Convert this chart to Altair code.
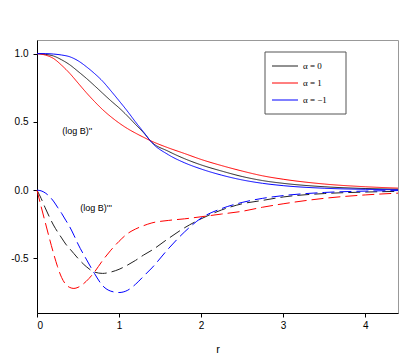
import altair as alt
import pandas as pd

# ---- data ----
R_SOLID = [0, 0.1, 0.2, 0.3, 0.4, 0.5, 0.6, 0.7, 0.8, 0.9, 1.0, 1.1, 1.2, 1.3, 1.4,
           1.6, 1.8, 2.0, 2.25, 2.5, 2.75, 3.0, 3.5, 4.0, 4.4]
BLACK_2 = [1.0, 0.995, 0.983, 0.955, 0.918, 0.87, 0.82, 0.766, 0.71, 0.655, 0.603,
           0.545, 0.482, 0.42, 0.351, 0.285, 0.23, 0.185, 0.14, 0.1, 0.07, 0.05, 0.025,
           0.012, 0.007]
RED_2 = [1.0, 0.99, 0.965, 0.915, 0.855, 0.785, 0.715, 0.65, 0.59, 0.538, 0.492, 0.452,
         0.418, 0.387, 0.358, 0.31, 0.268, 0.225, 0.18, 0.14, 0.105, 0.08, 0.045, 0.025,
         0.015]
BLUE_2 = [1.0, 1.0, 0.997, 0.99, 0.977, 0.948, 0.905, 0.855, 0.798, 0.728, 0.655, 0.58,
          0.5, 0.425, 0.348, 0.26, 0.2, 0.155, 0.11, 0.075, 0.05, 0.033, 0.014, 0.006,
          0.003]

R_DASH = [0, 0.05, 0.1, 0.15, 0.2, 0.25, 0.3, 0.35, 0.4, 0.45, 0.5, 0.6, 0.7, 0.8, 0.9,
          1.0, 1.1, 1.2, 1.3, 1.4, 1.6, 1.8, 2.0, 2.25, 2.5, 2.75, 3.0, 3.5, 4.0, 4.4]
BLACK_3 = [0, -0.06, -0.13, -0.195, -0.255, -0.305, -0.35, -0.395, -0.43, -0.465, -0.5,
           -0.56, -0.6, -0.61, -0.6, -0.58, -0.55, -0.515, -0.475, -0.44, -0.355, -0.275,
           -0.21, -0.145, -0.1, -0.075, -0.05, -0.025, -0.014, -0.009]
RED_3 = [0, -0.12, -0.235, -0.35, -0.46, -0.56, -0.64, -0.69, -0.713, -0.72, -0.712,
         -0.668, -0.6, -0.515, -0.44, -0.375, -0.32, -0.285, -0.26, -0.24, -0.222, -0.21,
         -0.195, -0.175, -0.155, -0.125, -0.1, -0.06, -0.035, -0.022]
BLUE_3 = [0, -0.005, -0.02, -0.045, -0.08, -0.125, -0.17, -0.22, -0.27, -0.33, -0.395,
          -0.505, -0.61, -0.7, -0.74, -0.75, -0.735, -0.69, -0.63, -0.57, -0.43, -0.305,
          -0.205, -0.135, -0.09, -0.06, -0.04, -0.017, -0.007, -0.003]

SERIES = ["α = 0", "α = 1", "α = −1"]
COLORS = ["#222222", "#ff0000", "#0000ff"]

X_TICKS = [0, 1, 2, 3, 4]
Y_TICKS = [-0.5, 0.0, 0.5, 1.0]

ANNOT_TEXT = ["(log B)''", "(log B)'''"]
ANNOT_R = [0.49, 0.72]
ANNOT_V = [0.434, -0.13]

# ---- build table ----
rows = []
for name, vals in zip(SERIES, [BLACK_2, RED_2, BLUE_2]):
    for r, v in zip(R_SOLID, vals):
        rows.append({"r": r, "v": v, "alpha": name, "deriv": "second"})
for name, vals in zip(SERIES, [BLACK_3, RED_3, BLUE_3]):
    for r, v in zip(R_DASH, vals):
        rows.append({"r": r, "v": v, "alpha": name, "deriv": "third"})
df = pd.DataFrame(rows)

x_scale = alt.Scale(domain=[0, 4.4], nice=False, zero=False)
y_scale = alt.Scale(domain=[-0.9, 1.1], nice=False, zero=False)

FONT = "Liberation Sans"

lines = alt.Chart(df).mark_line(strokeWidth=1, interpolate="monotone").encode(
    x=alt.X("r:Q", scale=x_scale,
            axis=alt.Axis(values=X_TICKS, format="d", title="r", grid=False,
                          tickSize=4, labelPadding=3, labelFontSize=10,
                          labelFont=FONT, titleFont=FONT, titleFontSize=11,
                          titleFontWeight="normal", titlePadding=13,
                          domainColor="black", tickColor="black", labelColor="black")),
    y=alt.Y("v:Q", scale=y_scale,
            axis=alt.Axis(values=Y_TICKS, format=".1f", title=None, grid=False,
                          tickSize=4, labelPadding=5, labelFontSize=10,
                          labelFont=FONT,
                          labelExpr="replace(datum.label, '−', '-')",
                          domainColor="black", tickColor="black", labelColor="black")),
    color=alt.Color("alpha:N", scale=alt.Scale(domain=SERIES, range=COLORS), legend=None),
    strokeDash=alt.StrokeDash("deriv:N",
                              scale=alt.Scale(domain=["second", "third"],
                                              range=[[1, 0], [12, 5]]),
                              legend=None),
    order="r:Q",
)

annot_df = pd.DataFrame({"text": ANNOT_TEXT, "r": ANNOT_R, "v": ANNOT_V})
annots = alt.Chart(annot_df).mark_text(font=FONT, fontSize=9, color="black",
                                        align="center", baseline="middle").encode(
    x=alt.X("r:Q", scale=x_scale), y=alt.Y("v:Q", scale=y_scale), text="text:N")

# ---- legend box drawn as decoration ----
one = pd.DataFrame({"a": [0]})
box = alt.Chart(one).mark_rect(fill="white", stroke="#555555", strokeWidth=1).encode(
    x=alt.value(228), x2=alt.value(309), y=alt.value(12), y2=alt.value(74))
legend_layers = [box]
LEG_Y = [26, 43, 60]
for name, col, yy in zip(SERIES, COLORS, LEG_Y):
    legend_layers.append(
        alt.Chart(one).mark_rule(color=col, strokeWidth=1).encode(
            x=alt.value(235), x2=alt.value(261), y=alt.value(yy)))
    legend_layers.append(
        alt.Chart(one).mark_text(text=name, font="Liberation Serif", fontSize=9,
                                 align="left", baseline="middle", color="black").encode(
            x=alt.value(266), y=alt.value(yy)))

chart = alt.layer(lines, annots, *legend_layers).properties(
    width=361, height=273,
    padding={"left": 29, "top": 32, "right": 10, "bottom": 40},
    autosize=alt.AutoSizeParams(type="none"),
).configure_view(stroke="#999999", strokeWidth=1)

chart.save("out.html", embed_options={"renderer": "svg", "actions": False})
